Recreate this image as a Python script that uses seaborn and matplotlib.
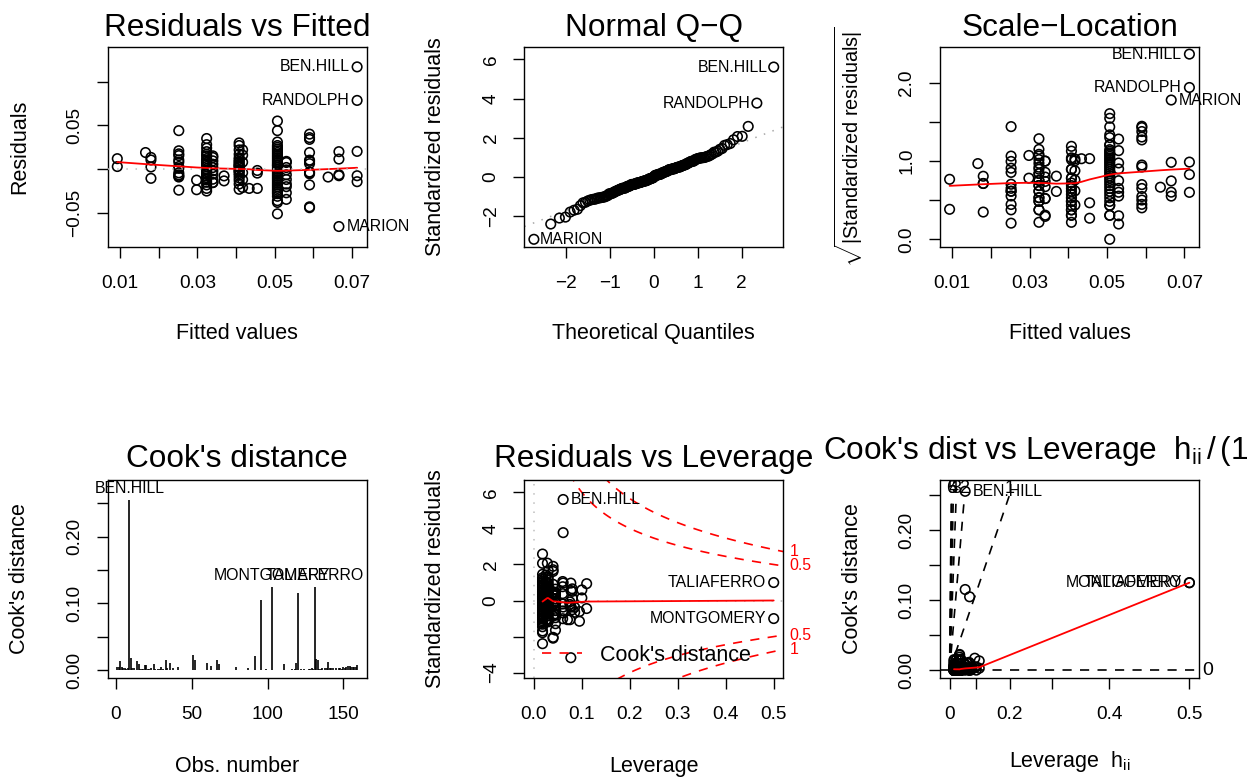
import numpy as np
import matplotlib
matplotlib.use("Agg")
import matplotlib.pyplot as plt
from matplotlib.lines import Line2D
import seaborn as sns
from statistics import NormalDist

# ---------------------------------------------------------------- data
# model cells (groups of counties sharing the same fitted value / leverage)
cell_names = ["A", "B", "C", "D", "E", "F", "F2", "G", "H", "H2",
              "I", "J", "K", "K2", "L", "M", "N", "O", "P"]
cell_fitted = [0.0093, 0.0166, 0.0180, 0.0252, 0.0298, 0.0324, 0.0340, 0.0369, 0.0408, 0.0417,
               0.0434, 0.0455, 0.0507, 0.0530, 0.0590, 0.0638, 0.0666, 0.0713, 0.0340]
cell_leverage = [0.100, 0.110, 0.080, 0.028, 0.095, 0.030, 0.045, 0.085, 0.025, 0.060,
                 0.070, 0.075, 0.018, 0.045, 0.040, 0.110, 0.077, 0.061, 0.500]

# cell of each observation (obs. number 1..159)
obs_cell = [
    "K", "H", "B", "F", "D", "K", "F2", "H", "O", "L",
    "K", "F", "K2", "L", "N", "H", "K", "D", "H2", "O",
    "F", "K", "C", "H", "K2", "K", "F2", "F", "D", "H2",
    "K", "H", "K2", "N", "F", "F", "K", "L", "H", "K2",
    "E", "K", "D", "F", "J", "H", "K", "F2", "A", "F",
    "L", "L", "K", "H", "D", "L", "K", "F", "H", "I",
    "K", "O", "F", "K2", "H", "K", "D", "K", "F", "C",
    "H", "K", "F2", "D", "L", "F", "K", "H", "G", "H2",
    "K", "F", "D", "H", "K2", "K", "M", "F", "L", "H",
    "K", "L", "F2", "F", "D", "N", "K", "H", "N", "F",
    "K", "J", "P", "H", "K2", "K", "F", "L", "D", "H",
    "H2", "K", "F2", "F", "H2", "K", "H", "G", "J", "O",
    "F", "K", "D", "K2", "H", "L", "K", "F", "O", "F2",
    "P", "E", "K", "K", "H", "F", "D", "C", "K", "K",
    "H", "K2", "F", "L", "K", "N", "F2", "K", "H2", "K2",
    "L", "K", "K", "H", "F", "D", "A", "C", "K"]

# raw residuals of each observation
residual = [
    0.031, 0.027, 0.019, 0.024, 0.021, 0.027, 0.0133, 0.022, 0.1168, 0.040,
    0.025, 0.020, 0.0089, 0.034, 0.020, 0.017, 0.023, 0.0175, -0.021, 0.0203,
    0.017, 0.021, 0.0105, 0.013, -0.027, 0.019, 0.0095, 0.015, 0.0155, 0.016,
    0.017, 0.011, -0.0345, 0.0115, 0.012, 0.035, 0.015, 0.019, 0.009, 0.0076,
    -0.0125, 0.013, 0.0105, 0.010, -0.0015, 0.008, 0.011, 0.0057, 0.003, 0.008,
    -0.044, 0.036, 0.009, 0.006, 0.0080, 0.0103, 0.007, 0.006, 0.005, -0.022,
    0.005, -0.0075, 0.028, 0.0019, 0.004, 0.004, 0.044, 0.044, 0.005, 0.0025,
    0.003, 0.002, 0.0018, 0.003, 0.0089, 0.003, 0.000, 0.002, -0.0134, 0.008,
    -0.002, -0.001, 0.0009, -0.001, -0.0008, -0.004, -0.009, -0.003, 0.0063, -0.002,
    -0.006, -0.043, -0.002, -0.005, -0.0042, -0.0655, -0.008, -0.003, -0.0075, -0.006,
    -0.010, -0.0045, -0.0152, -0.005, -0.0064, -0.012, -0.008, -0.0053, -0.0065, -0.007,
    0.022, -0.014, -0.0057, -0.010, -0.004, -0.016, -0.010, -0.0077, -0.022, 0.0785,
    -0.012, -0.018, -0.0080, -0.0118, -0.013, -0.0042, -0.020, -0.015, -0.0143, -0.0115,
    0.0152, -0.0235, 0.055, -0.022, -0.017, -0.018, -0.0090, -0.0105, -0.024, -0.051,
    -0.023, -0.017, -0.022, -0.0034, -0.026, -0.0063, -0.0154, -0.028, -0.012, -0.020,
    -0.018, -0.031, -0.036, 0.030, -0.025, -0.024, 0.012, 0.0134, -0.038]

county_label = {9: "BEN.HILL", 96: "MARION", 103: "MONTGOMERY",
                120: "RANDOLPH", 131: "TALIAFERRO"}

sigma = 0.0215          # residual standard error
n_coef = 8              # model rank
cook_levels = [0.5, 1]
contour_levels = [0, 1, 2, 3, 4, 5, 6]

# tick definitions (R drops overlapping labels)
fit_ticks = [0.01, 0.02, 0.03, 0.04, 0.05, 0.06, 0.07]
fit_labels = ["0.01", "", "0.03", "", "0.05", "", "0.07"]
res_ticks = [-0.05, 0.0, 0.05, 0.10]
res_labels = ["\u22120.05", "", "0.05", ""]
qq_xticks = [-2, -1, 0, 1, 2]
qq_xlabels = ["\u22122", "\u22121", "0", "1", "2"]
qq_yticks = [-2, 0, 2, 4, 6]
qq_ylabels = ["\u22122", "0", "2", "4", "6"]
sl_ticks = [0.0, 0.5, 1.0, 1.5, 2.0]
sl_labels = ["0.0", "", "1.0", "", "2.0"]
cook_ticks = [0.0, 0.05, 0.10, 0.15, 0.20, 0.25]
cook_labels = ["0.00", "", "0.10", "", "0.20", ""]
obs_ticks = [0, 50, 100, 150]
lev_ticks = [0.0, 0.1, 0.2, 0.3, 0.4, 0.5]
lev_labels = ["0.0", "0.1", "0.2", "0.3", "0.4", "0.5"]
rl_yticks = [-4, -2, 0, 2, 4, 6]
rl_ylabels = ["\u22124", "", "0", "2", "4", "6"]
h_ticks = [0.0, 0.1, 0.2, 0.3, 0.4, 0.5]
h_labels = ["0", "", "0.2", "", "0.4", "0.5"]

# ---------------------------------------------------------------- derived diagnostics
idx = {c: i for i, c in enumerate(cell_names)}
fitted = np.array([cell_fitted[idx[c]] for c in obs_cell])
hii = np.array([cell_leverage[idx[c]] for c in obs_cell])
resid = np.array(residual)
n = len(resid)
obs = np.arange(1, n + 1)
rs = resid / (sigma * np.sqrt(1 - hii))
cook = rs ** 2 * hii / ((1 - hii) * n_coef)
g = hii / (1 - hii)
sqrtabsr = np.sqrt(np.abs(rs))


def lowess(x, y, f=2 / 3, iters=3):
    """Port of R's clowess."""
    x = np.asarray(x, float)
    y = np.asarray(y, float)
    o = np.argsort(x, kind="mergesort")
    x = x[o]
    y = y[o]
    nn = len(x)
    ns = max(2, min(nn, int(f * nn + 1e-7)))
    rng = x[-1] - x[0]
    delta = 0.01 * rng
    rw = np.ones(nn)
    ys = np.zeros(nn)

    def lowest(xs, nleft, nright, userw):
        h = max(xs - x[nleft], x[nright] - xs)
        h9, h1 = 0.999 * h, 0.001 * h
        w = np.zeros(nn)
        a = 0.0
        j = nleft
        while j < nn:
            r = abs(x[j] - xs)
            if r <= h9:
                wj = 1.0 if r <= h1 else (1 - (r / h) ** 3) ** 3
                if userw:
                    wj *= rw[j]
                w[j] = wj
                a += wj
            elif x[j] > xs:
                break
            j += 1
        nrt = j - 1
        if a <= 0:
            return None
        sl = slice(nleft, nrt + 1)
        w[sl] /= a
        if h > 0:
            a = np.sum(w[sl] * x[sl])
            b = xs - a
            c = np.sum(w[sl] * (x[sl] - a) ** 2)
            if np.sqrt(c) > 0.001 * rng:
                b /= c
                w[sl] *= b * (x[sl] - a) + 1
        return np.sum(w[sl] * y[sl])

    it = 1
    while it <= iters + 1:
        nleft, nright, last, i = 0, ns - 1, -1, 0
        while True:
            if nright < nn - 1:
                d1 = x[i] - x[nleft]
                d2 = x[nright + 1] - x[i]
                if d1 > d2:
                    nleft += 1
                    nright += 1
                    continue
            v = lowest(x[i], nleft, nright, it > 1)
            ys[i] = y[i] if v is None else v
            if last < i - 1:
                denom = x[i] - x[last]
                for j in range(last + 1, i):
                    al = (x[j] - x[last]) / denom
                    ys[j] = al * ys[i] + (1 - al) * ys[last]
            last = i
            cut = x[last] + delta
            i = last + 1
            while i < nn:
                if x[i] > cut:
                    break
                if x[i] == x[last]:
                    ys[i] = ys[last]
                    last = i
                i += 1
            i = max(last + 1, i - 1)
            if last >= nn - 1:
                break
        res = y - ys
        sc = np.mean(np.abs(res))
        if it > iters:
            break
        r = np.abs(res)
        cmad = 6 * np.median(r)
        if cmad < 1e-7 * sc:
            break
        c9, c1 = 0.999 * cmad, 0.001 * cmad
        rw = np.where(r <= c1, 1.0, np.where(r <= c9, (1 - (r / cmad) ** 2) ** 2, 0.0))
        it += 1
    return x, ys


def usr(lo, hi):
    d = hi - lo
    return lo - 0.04 * d, hi + 0.04 * d


def extendrange(lo, hi, f):
    d = hi - lo
    return lo - f * d, hi + f * d


# ---------------------------------------------------------------- style
sns.set_style("ticks")
plt.rcParams.update({
    "font.family": ["Liberation Sans", "DejaVu Sans"],
    "mathtext.fontset": "custom",
    "mathtext.rm": "Liberation Sans",
    "mathtext.it": "Liberation Sans",
    "mathtext.bf": "Liberation Sans:bold",
    "mathtext.sf": "Liberation Sans",
    "axes.edgecolor": "black",
    "axes.linewidth": 1.0,
    "xtick.color": "black",
    "ytick.color": "black",
    "text.color": "black",
    "axes.labelcolor": "black",
    "axes.unicode_minus": True,
})

W, H = 1253, 778
fig = plt.figure(figsize=(W / 100, H / 100), dpi=100)
fig.patch.set_facecolor("white")

lefts = [107.7, 524.3, 940.0]
box_w = 259.0
tops = [46.7, 479.5]
box_h = [200.0, 198.2]

TITLE = 22.7
LABEL = 15.5
TICK = 13.7
IDSZ = 11.4
PT = dict(marker="o", s=47, facecolor="none", edgecolor="black", linewidth=1.15,
          legend=False, zorder=3)
DASH = (0, (5.5, 5))
DOT = (0, (1, 5))


def make_ax(r, c):
    return fig.add_axes([lefts[c] / W, 1 - (tops[r] + box_h[r]) / H, box_w / W, box_h[r] / H])


def style(ax, r, xt, xl, yt, yl, xlabel, ylabel, title, tpad, xlab_off=87, ylab_off=88,
          ylabsize=LABEL):
    ax.set_xticks(xt)
    ax.set_xticklabels(xl)
    ax.set_yticks(yt)
    ax.set_yticklabels(yl, rotation=90, va="center")
    ax.tick_params(axis="both", direction="out", length=7.7, width=1.0, labelsize=TICK)
    ax.tick_params(axis="x", pad=13)
    ax.tick_params(axis="y", pad=10)
    ax.set_title(title, fontsize=TITLE, pad=tpad)
    ax.set_xlabel(xlabel, fontsize=LABEL, va="center")
    ax.xaxis.set_label_coords(0.5, -xlab_off / box_h[r])
    ax.set_ylabel(ylabel, fontsize=ylabsize, va="center", ha="center")
    ax.yaxis.set_label_coords(-ylab_off / box_w, 0.5)
    for sp in ax.spines.values():
        sp.set_visible(True)
        sp.set_linewidth(1.0)
        sp.set_color("black")


def label_points(ax, xs, ys, ids, off=5.5):
    xs = np.asarray(xs)
    mid = (xs.min() + xs.max()) / 2
    for xv, yv, k in zip(xs, ys, ids):
        left = xv > mid
        ax.annotate(county_label.get(k, str(k)), (xv, yv),
                    xytext=(-off if left else off, 0), textcoords="offset points",
                    ha="right" if left else "left", va="center", fontsize=IDSZ,
                    annotation_clip=False)


top_r = np.argsort(-np.abs(rs), kind="mergesort")[:3]
top_c = np.argsort(-cook, kind="mergesort")[:3]

# ---------------------------------------------------------------- 1 Residuals vs Fitted
ax1 = make_ax(0, 0)
sns.scatterplot(x=fitted, y=resid, ax=ax1, **PT)
lx, ly = lowess(fitted, resid)
ax1.plot(lx, ly, color="red", lw=1.3, zorder=4)
ax1.axhline(0, color="#BEBEBE", lw=1.1, ls=DOT, zorder=5)
ax1.set_xlim(*usr(fitted.min(), fitted.max()))
ax1.set_ylim(*usr(*extendrange(resid.min(), resid.max(), 0.08)))
label_points(ax1, fitted[top_r], resid[top_r], obs[top_r])
style(ax1, 0, fit_ticks, fit_labels, res_ticks, res_labels, "Fitted values", "Residuals",
      "Residuals vs Fitted", 7.7)

# ---------------------------------------------------------------- 2 Normal Q-Q
ax2 = make_ax(0, 1)
order = np.argsort(rs, kind="mergesort")
qx = np.empty(n)
nd = NormalDist()
qx[order] = [nd.inv_cdf((i - 0.5) / n) for i in range(1, n + 1)]
sns.scatterplot(x=qx, y=rs, ax=ax2, **PT)
yq = np.quantile(rs, [0.25, 0.75])
xq = np.array([nd.inv_cdf(0.25), nd.inv_cdf(0.75)])
slope = (yq[1] - yq[0]) / (xq[1] - xq[0])
ax2.axline((0, yq[0] - slope * xq[0]), slope=slope, color="#A8A8A8", lw=1.1, ls=DOT, zorder=2)
ax2.set_xlim(*usr(qx.min(), qx.max()))
ylo, yhi = rs.min(), rs.max()
ax2.set_ylim(*usr(ylo, yhi + (yhi - ylo) * 0.075))
label_points(ax2, qx[top_r], rs[top_r], obs[top_r], off=4.5)
style(ax2, 0, qq_xticks, qq_xlabels, qq_yticks, qq_ylabels, "Theoretical Quantiles",
      "Standardized residuals", "Normal Q\u2212Q", 7.7, ylab_off=89)

# ---------------------------------------------------------------- 3 Scale-Location
ax3 = make_ax(0, 2)
sns.scatterplot(x=fitted, y=sqrtabsr, ax=ax3, **PT)
lx, ly = lowess(fitted, sqrtabsr)
ax3.plot(lx, ly, color="red", lw=1.3, zorder=4)
ax3.set_xlim(*usr(fitted.min(), fitted.max()))
ax3.set_ylim(*usr(0, sqrtabsr.max()))
label_points(ax3, fitted[top_r], sqrtabsr[top_r], obs[top_r])
style(ax3, 0, fit_ticks, fit_labels, sl_ticks, sl_labels, "Fitted values",
      r"$\sqrt{|\mathrm{Standardized\ residuals}|}$", "Scale\u2212Location", 7.7,
      ylab_off=91, ylabsize=14.3)

# ---------------------------------------------------------------- 4 Cook's distance
ax4 = make_ax(1, 0)
ax4.vlines(obs, 0, cook, color="black", lw=1.2)
ax4.set_xlim(*usr(1, n))
ax4.set_ylim(*usr(0, cook.max() * 1.075))
for k in top_c:
    ax4.annotate(county_label.get(obs[k], str(obs[k])), (obs[k], cook[k]), xytext=(0, 2.5),
                 textcoords="offset points", ha="center", va="bottom", fontsize=IDSZ,
                 annotation_clip=False)
style(ax4, 1, obs_ticks, [str(t) for t in obs_ticks], cook_ticks, cook_labels,
      "Obs. number", "Cook's distance", "Cook's distance", 9, xlab_off=89)

# ---------------------------------------------------------------- 5 Residuals vs Leverage
ax5 = make_ax(1, 1)
sns.scatterplot(x=hii, y=rs, ax=ax5, **PT)
lx, ly = lowess(hii, rs)
ax5.plot(lx, ly, color="red", lw=1.3, zorder=4)
ax5.axhline(0, color="#BEBEBE", lw=1.1, ls=DOT, zorder=1)
ax5.axvline(0, color="#BEBEBE", lw=1.1, ls=DOT, zorder=1)
x5 = usr(0, hii.max())
ax5.set_xlim(*x5)
ax5.set_ylim(*usr(*extendrange(rs.min(), rs.max(), 0.08)))
hh = np.linspace(min(hii.min(), hii.max() / 100), x5[1], 101)
for crit in cook_levels:
    clh = np.sqrt(crit * n_coef * (1 - hh) / hh)
    ax5.plot(hh, clh, color="red", lw=1.2, ls=DASH, zorder=2)
    ax5.plot(hh, -clh, color="red", lw=1.2, ls=DASH, zorder=2)
xm = min(0.99, x5[1])
ymult = np.sqrt(n_coef * (1 - xm) / xm)
for crit in cook_levels:
    for sgn in (1, -1):
        ax5.annotate(f"{crit:g}", (1.0, sgn * np.sqrt(crit) * ymult),
                     xycoords=("axes fraction", "data"), xytext=(4.5, 0),
                     textcoords="offset points", ha="left", va="center", color="red",
                     fontsize=IDSZ, annotation_clip=False)
ax5.legend(handles=[Line2D([], [], color="red", lw=1.2, ls=DASH)], labels=["Cook's distance"],
           loc="lower left", bbox_to_anchor=(17.4 / box_w, 12.0 / box_h[1]), frameon=False,
           fontsize=LABEL, handlelength=1.86, handletextpad=0.85, borderpad=0,
           borderaxespad=0)
label_points(ax5, hii[top_c], rs[top_c], obs[top_c])
style(ax5, 1, lev_ticks, lev_labels, rl_yticks, rl_ylabels, "Leverage",
      "Standardized residuals", "Residuals vs Leverage", 9, xlab_off=89, ylab_off=89)

# ---------------------------------------------------------------- 6 Cook's dist vs Leverage
ax6 = make_ax(1, 2)
sns.scatterplot(x=g, y=cook, ax=ax6, **PT)
lx, ly = lowess(g, cook)
ax6.plot(lx, ly, color="red", lw=1.3, zorder=4)
x6 = usr(0, g.max())
y6 = usr(0, cook.max() * 1.025)
ax6.set_xlim(*x6)
ax6.set_ylim(*y6)
sh = 11.0 * (y6[1] - y6[0]) / box_h[1]          # height of a text line, data units
sw = 3.0 * (x6[1] - x6[0]) / box_w
line_p = 1
for b in contour_levels:
    b2 = b * b
    if line_p * y6[1] > b2 * x6[1]:
        xi = x6[1] + sw
        ax6.axline((0, 0), slope=b2, color="black", lw=1.2, ls=DASH, zorder=2)
        ax6.text(xi, b2 * xi / line_p, str(b), ha="left", va="center", fontsize=14,
                 clip_on=False)
    else:
        yi = y6[1] - 1.5 * sh
        xi = line_p * yi / b2
        ax6.plot([0, xi], [0, yi], color="black", lw=1.2, ls=DASH, zorder=2)
        ax6.text(xi, y6[1] - 0.8 * sh, str(b), ha="center", va="center", fontsize=13,
                 clip_on=False)
label_points(ax6, g[top_c], cook[top_c], obs[top_c])
style(ax6, 1, [t / (1 - t) for t in h_ticks], h_labels, cook_ticks, cook_labels,
      r"Leverage  $\mathrm{h}_{\mathrm{ii}}$", "Cook's distance",
      r"Cook's dist vs Leverage  $\mathrm{h}_{\mathrm{ii}}\,/\,(1-\mathrm{h}_{\mathrm{ii}})$",
      14.5, xlab_off=84)

fig.savefig("out.png", dpi=100, facecolor="white")
